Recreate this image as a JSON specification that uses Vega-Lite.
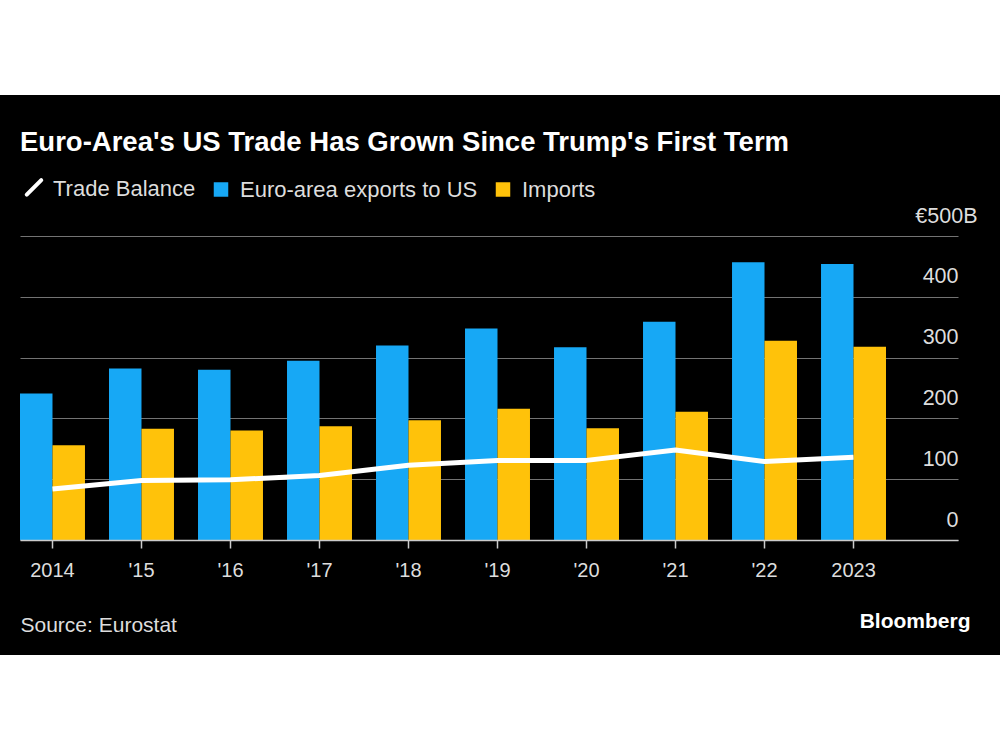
{
  "$schema": "https://vega.github.io/schema/vega-lite/v6.json",
  "width": 938,
  "height": 330,
  "autosize": {"type": "none"},
  "padding": {"left": 20, "right": 42, "top": 210, "bottom": 210},
  "background": "#ffffff",
  "title": {
    "text": "Euro-Area's US Trade Has Grown Since Trump's First Term",
    "anchor": "start",
    "frame": "group",
    "font": "Liberation Sans",
    "fontSize": 27.5,
    "fontWeight": "bold",
    "color": "#ffffff",
    "offset": 20
  },
  "data": {
    "values": [
      {"year": 2014, "series": "Euro-area exports to US", "value": 241},
      {"year": 2014, "series": "Imports", "value": 156},
      {"year": 2014, "series": "Trade Balance", "value": 84},
      {"year": 2015, "series": "Euro-area exports to US", "value": 282},
      {"year": 2015, "series": "Imports", "value": 183},
      {"year": 2015, "series": "Trade Balance", "value": 98},
      {"year": 2016, "series": "Euro-area exports to US", "value": 280},
      {"year": 2016, "series": "Imports", "value": 180},
      {"year": 2016, "series": "Trade Balance", "value": 99},
      {"year": 2017, "series": "Euro-area exports to US", "value": 295},
      {"year": 2017, "series": "Imports", "value": 187},
      {"year": 2017, "series": "Trade Balance", "value": 106},
      {"year": 2018, "series": "Euro-area exports to US", "value": 320},
      {"year": 2018, "series": "Imports", "value": 197},
      {"year": 2018, "series": "Trade Balance", "value": 123},
      {"year": 2019, "series": "Euro-area exports to US", "value": 348},
      {"year": 2019, "series": "Imports", "value": 216},
      {"year": 2019, "series": "Trade Balance", "value": 131},
      {"year": 2020, "series": "Euro-area exports to US", "value": 317},
      {"year": 2020, "series": "Imports", "value": 184},
      {"year": 2020, "series": "Trade Balance", "value": 131},
      {"year": 2021, "series": "Euro-area exports to US", "value": 359},
      {"year": 2021, "series": "Imports", "value": 211},
      {"year": 2021, "series": "Trade Balance", "value": 148},
      {"year": 2022, "series": "Euro-area exports to US", "value": 457},
      {"year": 2022, "series": "Imports", "value": 328},
      {"year": 2022, "series": "Trade Balance", "value": 129},
      {"year": 2023, "series": "Euro-area exports to US", "value": 454},
      {"year": 2023, "series": "Imports", "value": 318},
      {"year": 2023, "series": "Trade Balance", "value": 136}
    ]
  },
  "encoding": {
    "x": {
      "field": "year",
      "type": "ordinal",
      "scale": {"paddingInner": 0.27, "paddingOuter": 0.4045, "align": 0},
      "axis": {
        "title": "Source: Eurostat",
        "titleAnchor": "start",
        "titleAlign": "left",
        "titleFont": "Liberation Sans",
        "titleFontSize": 21,
        "titleFontWeight": "normal",
        "titleColor": "#dddddd",
        "titlePadding": 34,
        "labelAngle": 0,
        "labelExpr": "datum.value === 2014 || datum.value === 2023 ? '' + datum.value : \"'\" + substring('' + datum.value, 2, 4)",
        "labelFont": "Liberation Sans",
        "labelFontSize": 20,
        "labelColor": "#dddddd",
        "labelPadding": 12,
        "ticks": true,
        "tickSize": 8,
        "tickColor": "#cccccc",
        "tickWidth": 1.5,
        "domain": true,
        "domainColor": "#cccccc",
        "domainWidth": 1.5,
        "grid": false,
        "zindex": 1
      }
    }
  },
  "layer": [
    {
      "transform": [{"filter": "datum.series !== 'Trade Balance'"}],
      "mark": {"type": "bar"},
      "encoding": {
        "xOffset": {
          "field": "series",
          "type": "nominal",
          "sort": ["Euro-area exports to US", "Imports"],
          "scale": {"paddingInner": 0, "paddingOuter": 0}
        },
        "y": {
          "field": "value",
          "type": "quantitative",
          "scale": {"domain": [0, 543], "nice": false, "zero": true},
          "axis": {
            "orient": "right",
            "values": [0, 100, 200, 300, 400, 500],
            "grid": true,
            "gridColor": "#737373",
            "gridWidth": 1.2,
            "domain": false,
            "ticks": false,
            "tickSize": 0,
            "labelFlush": false,
            "labelOverlap": false,
            "labelBound": false,
            "labelAlign": "right",
            "labelBaseline": "alphabetic",
            "labelOffset": -14,
            "labelPadding": {"condition": {"test": "datum.value === 500", "value": 19}, "value": 0},
            "labelExpr": "datum.value === 500 ? '€500B' : datum.label",
            "labelFont": "Liberation Sans",
            "labelFontSize": 21.5,
            "labelColor": "#dddddd",
            "title": "Bloomberg",
            "titleAngle": 0,
            "titleAlign": "right",
            "titleBaseline": "alphabetic",
            "titleX": 12,
            "titleY": 417,
            "titleFont": "Liberation Sans",
            "titleFontWeight": "bold",
            "titleFontSize": 21,
            "titleColor": "#ffffff"
          }
        },
        "color": {
          "field": "series",
          "type": "nominal",
          "scale": {
            "domain": ["Trade Balance", "Euro-area exports to US", "Imports"],
            "range": ["#ffffff", "#17A8F5", "#FFC20A"]
          },
          "legend": {
            "orient": "none",
            "legendX": 3,
            "legendY": -34,
            "direction": "horizontal",
            "title": null,
            "padding": 0,
            "labelFont": "Liberation Sans",
            "labelFontSize": 22,
            "labelColor": "#dddddd",
            "labelLimit": 0,
            "symbolSize": 210,
            "symbolStrokeWidth": 0,
            "labelOffset": 8,
            "columnPadding": 14,
            "encode": {
              "symbols": {
                "update": {
                  "shape": {"signal": "datum.value === 'Trade Balance' ? 'M-1,1L1,-1' : 'square'"},
                  "fill": {"signal": "datum.value === 'Trade Balance' ? 'transparent' : scale('color', datum.value)"},
                  "stroke": {"signal": "datum.value === 'Trade Balance' ? '#ffffff' : 'transparent'"},
                  "strokeWidth": {"signal": "datum.value === 'Trade Balance' ? 4 : 0"},
                  "strokeCap": {"value": "round"},
                  "opacity": {"value": 1}
                }
              },
              "labels": {
                "update": {
                  "dy": {"signal": "datum.value === 'Trade Balance' ? 2 : 0"}
                }
              }
            }
          }
        }
      }
    },
    {
      "transform": [{"filter": "datum.series === 'Trade Balance'"}],
      "mark": {"type": "line", "strokeWidth": 5, "strokeJoin": "round"},
      "encoding": {
        "y": {"field": "value", "type": "quantitative"},
        "color": {"field": "series", "type": "nominal"}
      }
    }
  ],
  "config": {
    "font": "Liberation Sans",
    "view": {"fill": "#000000", "stroke": "#000000", "strokeWidth": 230}
  }
}
